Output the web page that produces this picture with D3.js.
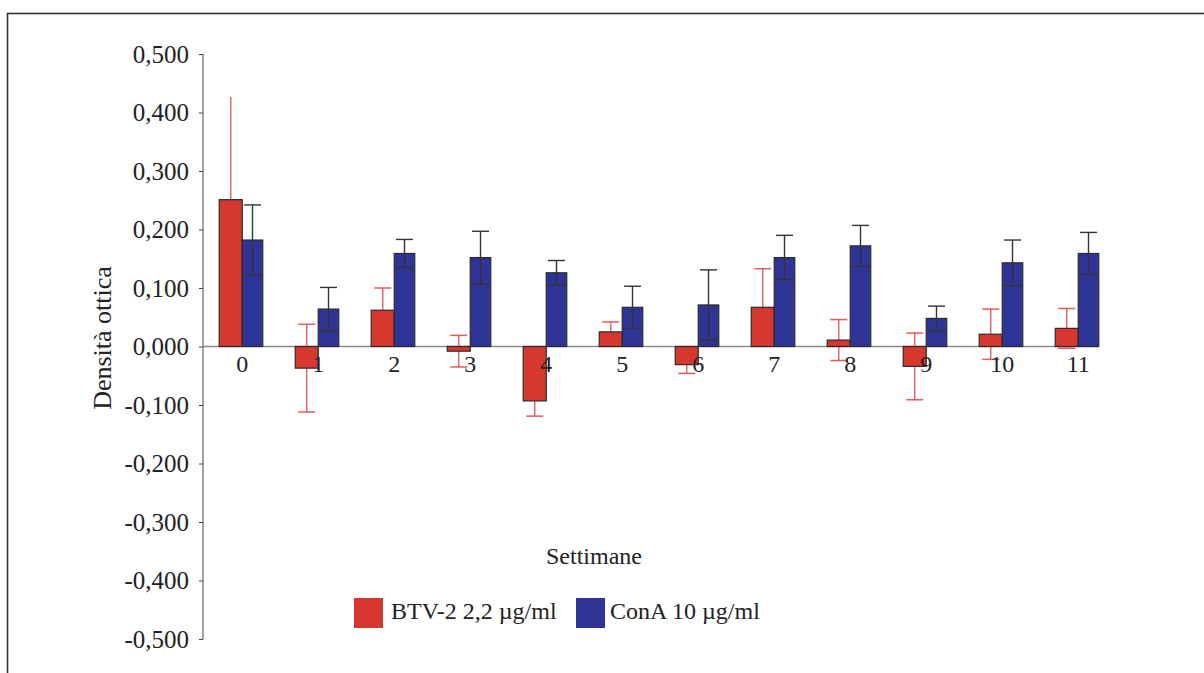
<!DOCTYPE html>
<html>
<head>
<meta charset="utf-8">
<script src="https://cdn.jsdelivr.net/npm/d3@7"></script>
<style>
  body { margin: 0; background: #fff; }
  text { font-family: "Liberation Serif", "Times New Roman", serif; fill: #222; }
</style>
</head>
<body>
<svg width="1204" height="673"></svg>
<script>
// data (Densità ottica per settimana)
var weeks = ["0", "1", "2", "3", "4", "5", "6", "7", "8", "9", "10", "11"];
var btv = [0.251, -0.037, 0.062, -0.008, -0.093, 0.025, -0.031, 0.067, 0.011, -0.034, 0.021, 0.031];
var btvErr = [0.176, 0.075, 0.038, 0.027, 0.026, 0.017, 0.015, 0.066, 0.035, 0.057, 0.043, 0.034];
var cona = [0.182, 0.064, 0.159, 0.152, 0.126, 0.067, 0.071, 0.152, 0.172, 0.048, 0.143, 0.159];
var conaErr = [0.060, 0.037, 0.024, 0.045, 0.021, 0.036, 0.060, 0.038, 0.035, 0.021, 0.039, 0.036];
var yTicks = [-0.5, -0.4, -0.3, -0.2, -0.1, 0, 0.1, 0.2, 0.3, 0.4, 0.5];
var seriesNames = ["BTV-2 2,2 µg/ml", "ConA 10 µg/ml"];

var red = "#d6372e", blue = "#2f3597";
var redW = 23, blueW = 20.5, capW = 17;

var svg = d3.select("svg");

// frame (only top & left edges show in the picture)
svg.append("rect")
    .attr("x", 7.5).attr("y", 13.5)
    .attr("width", 1400).attr("height", 900)
    .attr("fill", "none").attr("stroke", "#333").attr("stroke-width", 1.6);

var y = d3.scaleLinear().domain([-0.5, 0.5]).range([639, 54]);
var x = d3.scaleBand().domain(weeks).range([203, 1115]);

var locale = d3.formatLocale({decimal: ",", thousands: ".", grouping: [3], currency: ["", ""], minus: "-"});
var fmt = locale.format(".3f");

// y axis
var yAxis = svg.append("g")
    .attr("transform", "translate(203,0)")
    .call(d3.axisLeft(y).tickValues(yTicks).tickFormat(fmt).tickSize(4).tickPadding(10));
yAxis.select(".domain").attr("stroke", "#444").attr("d", "M0," + y(0.5) + "V" + y(-0.5));
yAxis.selectAll(".tick line").attr("stroke", "#444");
yAxis.selectAll(".tick text")
    .style("font-family", "'Liberation Serif', serif")
    .style("font-size", "25px")
    .attr("fill", "#222");

// zero line
var groupLeft = function(d) { return x(d) + x.bandwidth() / 2 - (redW + blueW) / 2; };
svg.append("line")
    .attr("x1", 203).attr("x2", groupLeft(weeks[weeks.length - 1]) + redW + blueW)
    .attr("y1", y(0)).attr("y2", y(0))
    .attr("stroke", "#8a8a8a").attr("stroke-width", 1.6);

var groups = svg.append("g").selectAll("g")
    .data(weeks)
    .enter().append("g")
    .attr("transform", function(d) { return "translate(" + groupLeft(d) + ",0)"; });

// red error bars sit behind the red bars
groups.each(function(d, i) {
    var g = d3.select(this);
    var cx = redW / 2;
    var lo = y(btv[i] - btvErr[i]), hi = y(btv[i] + btvErr[i]);
    g.append("line").attr("x1", cx).attr("x2", cx).attr("y1", lo).attr("y2", hi)
        .attr("stroke", "#e66a6a").attr("stroke-width", 1.5);
    [lo, hi].forEach(function(v) {
        if (i == 0 && v == hi) return; // no cap on the tall one
        g.append("line").attr("x1", cx - capW / 2).attr("x2", cx + capW / 2).attr("y1", v).attr("y2", v)
            .attr("stroke", "#e65a5a").attr("stroke-width", 1.5);
    });
});

groups.append("rect")
    .attr("x", 0)
    .attr("y", function(d, i) { return Math.min(y(btv[i]), y(0)); })
    .attr("width", redW)
    .attr("height", function(d, i) { return Math.abs(y(btv[i]) - y(0)); })
    .attr("fill", red).attr("stroke", "#2a2a2a").attr("stroke-width", 1.2);

groups.append("rect")
    .attr("x", redW)
    .attr("y", function(d, i) { return Math.min(y(cona[i]), y(0)); })
    .attr("width", blueW)
    .attr("height", function(d, i) { return Math.abs(y(cona[i]) - y(0)); })
    .attr("fill", blue).attr("stroke", "#2a2a2a").attr("stroke-width", 1.2);

// blue error bars drawn on top
groups.each(function(d, i) {
    var g = d3.select(this);
    var cx = redW + blueW / 2;
    var lo = y(cona[i] - conaErr[i]), hi = y(cona[i] + conaErr[i]);
    g.append("line").attr("x1", cx).attr("x2", cx).attr("y1", lo).attr("y2", hi)
        .attr("stroke", "#333").attr("stroke-width", 1.4);
    [lo, hi].forEach(function(v) {
        g.append("line").attr("x1", cx - capW / 2).attr("x2", cx + capW / 2).attr("y1", v).attr("y2", v)
            .attr("stroke", "#333").attr("stroke-width", 1.4);
    });
});

// week labels
groups.append("text")
    .attr("x", redW)
    .attr("y", y(0) + 25)
    .attr("text-anchor", "middle")
    .style("font-size", "24px")
    .text(function(d) { return d; });

// axis titles
svg.append("text")
    .attr("x", 594).attr("y", 564)
    .attr("text-anchor", "middle")
    .style("font-size", "24px")
    .text("Settimane");

svg.append("text")
    .attr("transform", "translate(111,338) rotate(-90)")
    .attr("text-anchor", "middle")
    .style("font-size", "26px")
    .text("Densità ottica");

// legend
var legend = svg.append("g").selectAll("g")
    .data(seriesNames)
    .enter().append("g")
    .attr("transform", function(d, i) { return "translate(" + [354, 576][i] + ",598)"; });
legend.append("rect")
    .attr("width", 29).attr("height", 30)
    .attr("fill", function(d, i) { return i == 0 ? red : blue; });
legend.append("text")
    .attr("x", function(d, i) { return i == 0 ? 37 : 34; })
    .attr("y", 21)
    .style("font-size", "24px")
    .text(function(d) { return d; });
</script>
</body>
</html>
